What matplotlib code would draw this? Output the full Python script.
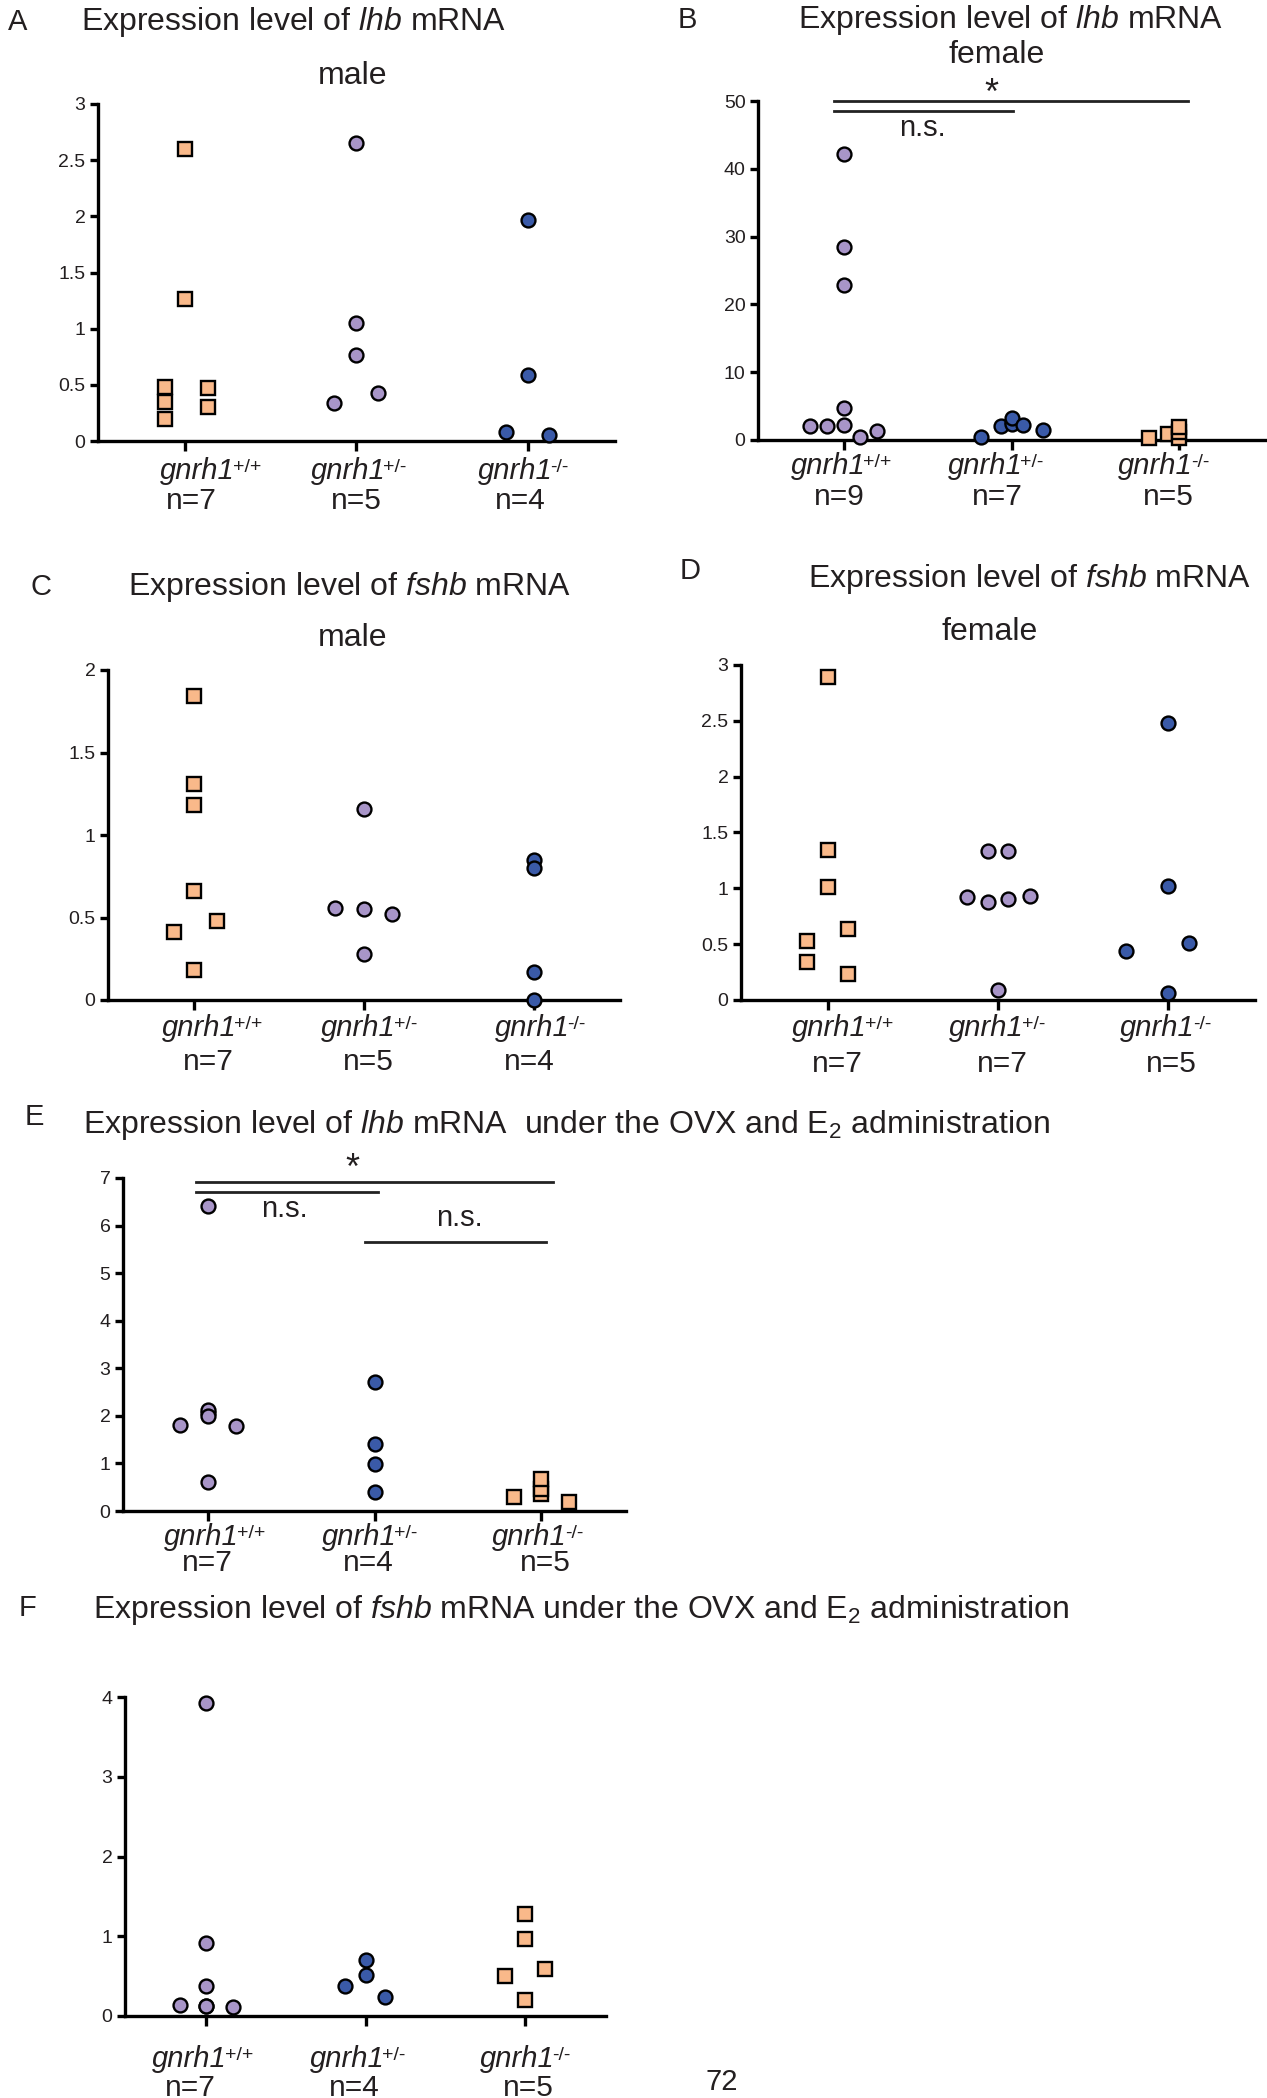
import matplotlib
matplotlib.use('Agg')

import matplotlib.pyplot as plt
from matplotlib.transforms import offset_copy

plt.rcParams['font.family'] = ['Liberation Sans', 'DejaVu Sans']
plt.rcParams['mathtext.fontset'] = 'custom'
plt.rcParams['mathtext.rm'] = 'Liberation Sans'
plt.rcParams['mathtext.it'] = 'Liberation Sans:italic'
plt.rcParams['mathtext.bf'] = 'Liberation Sans:bold'

TXT = '#231f20'
ORANGE = '#f9b98a'
PURPLE = '#a895c8'
BLUE = '#3a5aa8'

gene = 'gnrh1'
alleles = ['+/+', '+/-', '-/-']

# ---- data ----
# A: lhb male
a_wt = [2.60, 1.26, 0.48, 0.35, 0.20, 0.47, 0.30]
a_het = [2.65, 1.05, 0.77, 0.34, 0.43]
a_ko = [1.97, 0.59, 0.08, 0.05]
a_n = [7, 5, 4]
# B: lhb female
b_wt = [42.2, 28.4, 22.9, 4.7, 2.1, 2.0, 2.2, 0.4, 1.3]
b_het = [0.45, 2.1, 2.6, 2.3, 3.3, 2.25, 1.5]
b_ko = [0.3, 0.9, 0.3, 1.2, 1.95]
b_n = [9, 7, 5]
# C: fshb male
c_wt = [1.84, 1.31, 1.18, 0.66, 0.18, 0.41, 0.48]
c_het = [1.16, 0.55, 0.28, 0.56, 0.52]
c_ko = [0.85, 0.80, 0.17, 0.0]
c_n = [7, 5, 4]
# D: fshb female
d_wt = [2.89, 1.34, 1.01, 0.53, 0.34, 0.64, 0.23]
d_het = [1.33, 1.33, 0.92, 0.88, 0.90, 0.93, 0.09]
d_ko = [2.48, 1.02, 0.06, 0.44, 0.51]
d_n = [7, 7, 5]
# E: lhb, OVX + E2
e_wt = [2.06, 6.41, 2.13, 2.0, 0.6, 1.81, 1.79]
e_het = [2.71, 1.40, 0.98, 0.40]
e_ko = [0.35, 0.47, 0.67, 0.29, 0.19]
e_n = [7, 4, 5]
# F: fshb, OVX + E2
f_wt = [0.13, 3.92, 0.92, 0.38, 0.12, 0.14, 0.11]
f_het = [0.70, 0.52, 0.37, 0.24]
f_ko = [1.28, 0.96, 0.20, 0.50, 0.59]
f_n = [7, 4, 5]

# horizontal scatter of the points inside each column
a_dx = [[0, 0, -0.12, -0.12, -0.12, 0.13, 0.13], [0, 0, 0, -0.13, 0.125], [0, 0, -0.125, 0.125]]
b_dx = [[0, 0, 0, 0, -0.2, -0.1, 0, 0.1, 0.2], [-0.18, -0.06, 0, 0, 0, 0.07, 0.19], [-0.18, -0.07, 0, 0, 0]]
c_dx = [[0, 0, 0, 0, 0, -0.12, 0.13], [0, 0, 0, -0.17, 0.165], [0, 0, 0, 0]]
d_dx = [[0, 0, 0, -0.125, -0.125, 0.12, 0.12], [-0.06, 0.06, -0.18, -0.06, 0.06, 0.19, 0], [0, 0, 0, -0.25, 0.125]]
e_dx = [[0, 0, 0, 0, 0, -0.165, 0.17], [0, 0, 0, 0], [0, 0, 0, -0.165, 0.165]]
f_dx = [[0, 0, 0, 0, 0, -0.165, 0.17], [0, 0, -0.127, 0.124], [0, 0, 0, -0.127, 0.127]]

# significance bars: (x0, x1, y) and labels (text, x, y, size)
b_bars = [(-0.06, 2.05, 50.0), (-0.06, 1.01, 48.5)]
b_marks = [('*', 0.88, 50.9, 26), ('n.s.', 0.47, 46.0, 21)]
e_bars = [(-0.07, 2.07, 6.91), (-0.07, 1.02, 6.70), (0.94, 2.03, 5.65)]
e_marks = [('*', 0.87, 7.17, 26), ('n.s.', 0.46, 6.35, 21), ('n.s.', 1.51, 6.16, 21)]

W, H = 1267, 2098
fig = plt.figure(figsize=(W / 100, H / 100), dpi=100)
renderer = fig.canvas.get_renderer()


def make_ax(l, t, r, b):
    return fig.add_axes([l / W, 1 - b / H, (r - l) / W, (b - t) / H])


def panel(box, groups, offs, styles, ymax, ystep, ns, lab_y, n_y, lab_x, n_x):
    ax = make_ax(*box)
    for i, (vals, dx, (mk, col)) in enumerate(zip(groups, offs, styles)):
        ax.plot([i + d for d in dx], vals, linestyle='none', marker=mk, ms=10 if mk == 'o' else 9.6,
                mfc=col, mec='black', mew=1.7, clip_on=False, zorder=5)
    ax.set_xlim(-0.51, 2.51)
    ax.set_ylim(0, ymax)
    ticks = [k * ystep for k in range(int(round(ymax / ystep)) + 1)]
    ax.set_yticks(ticks)
    ax.set_yticklabels(['%g' % v for v in ticks], family=['Liberation Sans Narrow', 'Liberation Sans'],
                       fontsize=14, color=TXT)
    ax.set_xticks([0, 1, 2])
    ax.set_xticklabels([])
    for s in ['top', 'right']:
        ax.spines[s].set_visible(False)
    for s in ['left', 'bottom']:
        ax.spines[s].set_linewidth(2.4)
    ax.tick_params(axis='both', width=2.4, length=6, pad=3, color='black')
    ax.tick_params(axis='x', length=7)
    for i in range(3):
        tr = offset_copy(ax.get_xaxis_transform(), fig=fig, x=lab_x[i], y=-lab_y, units='dots')
        t = ax.text(i, 0, gene, transform=tr, ha='left', va='center', fontsize=21,
                    style='italic', color=TXT)
        bb = t.get_window_extent(renderer)
        fig.text((bb.x1 - 2) / W, (bb.y1 - 2) / H, alleles[i], ha='left', va='top',
                 fontsize=14, color=TXT)
        tr2 = offset_copy(ax.get_xaxis_transform(), fig=fig, x=n_x[i], y=-n_y, units='dots')
        ax.text(i, 0, 'n=%d' % ns[i], transform=tr2, ha='center', va='center', fontsize=21.5, color=TXT)
    return ax


def sig(ax, bars, marks):
    for x0, x1, y in bars:
        ax.plot([x0, x1], [y, y], color='#222222', lw=2.0, clip_on=False, zorder=3)
    for s, x, y, fs in marks:
        ax.text(x, y, s, ha='center', va='center', fontsize=fs, color=TXT)


sq = ('s', ORANGE)
pc = ('o', PURPLE)
bc = ('o', BLUE)

axA = panel((98, 104, 615, 441), [a_wt, a_het, a_ko], a_dx, [sq, pc, bc], 3, 0.5, a_n,
            30, 60, [-25, -46, -50], [6, 0, -7])
axB = panel((758, 101, 1265, 440), [b_wt, b_het, b_ko], b_dx, [pc, bc, sq], 50, 10, b_n,
            26, 57, [-53, -64, -61], [-4, -14, -11])
sig(axB, b_bars, b_marks)
axC = panel((108, 670, 620, 1000), [c_wt, c_het, c_ko], c_dx, [sq, pc, bc], 2, 0.5, c_n,
            28, 62, [-33, -43, -39], [14, 4, -4])
axD = panel((741, 665, 1255, 1000), [d_wt, d_het, d_ko], d_dx, [sq, pc, bc], 3, 0.5, d_n,
            28, 64, [-36, -49, -48], [10, 4, 3])
axE = panel((123, 1178, 626, 1511), [e_wt, e_het, e_ko], e_dx, [pc, bc, sq], 7, 1, e_n,
            26, 52, [-44, -53, -49], [-1, -6, 4])
sig(axE, e_bars, e_marks)
axF = panel((125, 1697, 606, 2016), [f_wt, f_het, f_ko], f_dx, [pc, bc, sq], 4, 1, f_n,
            43, 72, [-54, -56, -45], [-16, -11, 4])


# panel letters and titles (figure pixel positions)
def ftext(x, y, s, **kw):
    fig.text(x / W, 1 - y / H, s, color=TXT, va='center', **kw)


ftext(8, 22, 'A', fontsize=21)
ftext(81, 22, r'Expression level of $\mathit{lhb}$ mRNA', fontsize=23)
ftext(353, 76, 'male', fontsize=23, ha='center')
ftext(678, 20, 'B', fontsize=21)
ftext(1011, 20, r'Expression level of $\mathit{lhb}$ mRNA', fontsize=23, ha='center')
ftext(997, 55, 'female', fontsize=23, ha='center')
ftext(31, 587, 'C', fontsize=21)
ftext(349, 587, r'Expression level of $\mathit{fshb}$ mRNA', fontsize=23, ha='center')
ftext(353, 638, 'male', fontsize=23, ha='center')
ftext(680, 571, 'D', fontsize=21)
ftext(1029, 579, r'Expression level of $\mathit{fshb}$ mRNA', fontsize=23, ha='center')
ftext(990, 632, 'female', fontsize=23, ha='center')
ftext(25, 1117, 'E', fontsize=21)
ftext(83, 1125, r'Expression level of $\mathit{lhb}$ mRNA  under the OVX and E$_2$ administration', fontsize=23)
ftext(19, 1608, 'F', fontsize=21)
ftext(93, 1610, r'Expression level of $\mathit{fshb}$ mRNA under the OVX and E$_2$ administration', fontsize=23)
ftext(722, 2082, '72', fontsize=21, ha='center')

plt.savefig('out.png', dpi=100)
